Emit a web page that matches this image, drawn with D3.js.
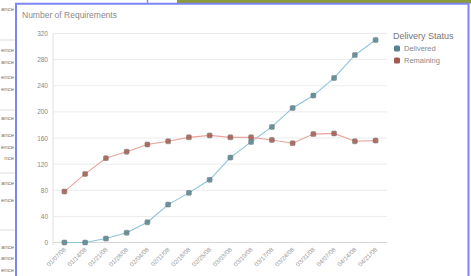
<!DOCTYPE html>
<html><head><meta charset="utf-8">
<script src="https://cdn.jsdelivr.net/npm/d3@7"></script>
<style>html,body{margin:0;padding:0;background:#fff;}svg{display:block;}</style>
</head><body>
<script>
const categories = ["01/07/08","01/14/08","01/21/08","01/28/08","02/04/08","02/11/08","02/18/08","02/25/08","03/03/08","03/10/08","03/17/08","03/24/08","03/31/08","04/07/08","04/14/08","04/21/08"];
const delivered = [0, 0, 6, 15, 31, 58, 76, 96, 130, 154, 177, 206, 225, 252, 287, 310];
const remaining = [78, 105, 129, 139, 150, 155, 161, 164, 161, 161, 157, 152, 166, 167, 155, 156];
const yTicks = [0, 40, 80, 120, 160, 200, 240, 280, 320];
const seriesNames = ["Delivered", "Remaining"];
const leftFragments = ["ance","ence","ance","ence","ence","ance","ance","ence","nce","ance","ence","ance","ance","ence"];

const W = 471, H = 276;
const svg = d3.select("body").append("svg").attr("width", W).attr("height", H);

// surrounding window chrome
svg.append("rect").attr("x", 177).attr("y", 0).attr("width", W - 177).attr("height", 3.5).attr("fill", "#8d9a3a");
svg.append("line").attr("x1", 147.5).attr("x2", 147.5).attr("y1", 0).attr("y2", 3.5).attr("stroke", "#7f8cf0").attr("stroke-width", 1.5);
const fragY = [9, 50, 62, 77, 89, 118, 135, 147, 158, 183, 200, 247, 258, 270];
svg.append("g").selectAll("text").data(fragY).join("text")
  .attr("x", 14).attr("y", d => d + 2.2).attr("text-anchor", "end")
  .attr("font-family", "Liberation Sans, Arial, sans-serif").attr("font-size", 6).attr("fill", "#777")
  .text((d, i) => leftFragments[i]);
[40, 110, 173, 230].forEach(y => svg.append("line").attr("x1", 0).attr("x2", 15).attr("y1", y).attr("y2", y).attr("stroke", "#ddd"));
svg.append("path").attr("d", `M16,${H} L16,3.8 L468.5,3.8 L468.5,${H}`).attr("fill", "none").attr("stroke", "#7b86f2").attr("stroke-width", 2);

const font = "Liberation Sans, Arial, sans-serif";
const x = d3.scalePoint().domain(categories).range([53, 387]).padding(0.55);
const y = d3.scaleLinear().domain([0, 320]).range([242.5, 33.5]);

// title
svg.append("text").attr("x", 22).attr("y", 18).attr("font-family", font).attr("font-size", 8.5).attr("fill", "#8a8a8a").text("Number of Requirements");

// gridlines
svg.append("g").selectAll("line").data(yTicks).join("line")
  .attr("x1", 53).attr("x2", 387).attr("y1", d => y(d)).attr("y2", d => y(d))
  .attr("stroke", d => d === 0 ? "#d8d8d8" : "#ececec");
svg.append("line").attr("x1", 53).attr("x2", 53).attr("y1", 33.5).attr("y2", 245).attr("stroke", "#e0e0e0");

// y labels
svg.append("g").selectAll("text").data(yTicks).join("text")
  .attr("x", 48).attr("y", d => y(d) + 2.5).attr("text-anchor", "end")
  .attr("font-family", font).attr("font-size", 6.5).attr("fill", "#888").text(d => d);

// x labels
svg.append("g").selectAll("text").data(categories).join("text")
  .attr("text-anchor", "end").attr("font-family", font).attr("font-size", 6.2).attr("fill", "#999")
  .attr("transform", d => `translate(${x(d) + 2},${250}) rotate(-45)`).text(d => d);

const series = [
  {name: seriesNames[0], values: delivered, line: "#8cc3d8", marker: "#55838e"},
  {name: seriesNames[1], values: remaining, line: "#eaa49c", marker: "#a05a50"}
];
const lineGen = d3.line().x((d, i) => x(categories[i])).y(d => y(d));
series.forEach(s => {
  svg.append("path").attr("d", lineGen(s.values)).attr("fill", "none").attr("stroke", s.line).attr("stroke-width", 1.1);
  svg.append("g").selectAll("rect").data(s.values).join("rect")
    .attr("x", (d, i) => x(categories[i]) - 2.5).attr("y", d => y(d) - 2.5)
    .attr("width", 5).attr("height", 5).attr("rx", 1.2)
    .attr("fill", s.marker).attr("stroke", "#6b6b6b").attr("stroke-width", 0.5).attr("opacity", 0.85);
});

// legend
svg.append("text").attr("x", 393).attr("y", 39).attr("font-family", font).attr("font-size", 9).attr("fill", "#777").text("Delivery Status");
series.forEach((s, i) => {
  const ly = 48.5 + i * 12;
  svg.append("rect").attr("x", 394).attr("y", ly - 3).attr("width", 6).attr("height", 6).attr("rx", 1.5).attr("fill", s.marker);
  svg.append("text").attr("x", 404).attr("y", ly + 2.5).attr("font-family", font).attr("font-size", 7.5).attr("fill", "#888").text(s.name);
});
</script>
</body></html>
